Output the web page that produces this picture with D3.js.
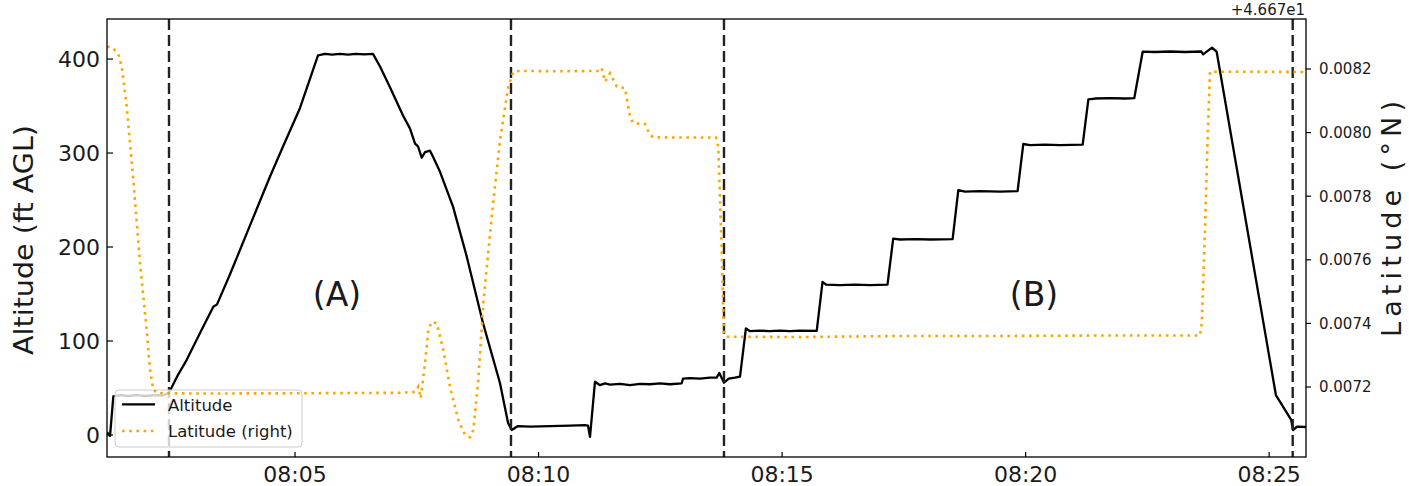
<!DOCTYPE html>
<html><head><meta charset="utf-8">
<script src="https://cdn.jsdelivr.net/npm/d3@7"></script>
<style>body{margin:0;background:#fff} svg{display:block} text{font-family:"DejaVu Sans",sans-serif;fill:#1a1a1a}</style>
</head><body><svg id="c" width="1409" height="486"></svg>
<script>
// minutes after 08:00
const altMinutes = [1.140,1.202,1.270,1.407,1.572,1.756,1.941,2.126,2.290,2.413,2.598,2.777,3.050,3.323,3.399,3.666,4.076,4.487,4.754,5.103,5.472,
  5.616,5.760,5.924,6.088,6.252,6.417,6.601,6.745,6.950,7.217,7.361,7.464,7.525,7.601,7.669,7.772,7.833,7.977,8.244,8.525,8.860,9.209,9.373,9.449,9.578,
  9.825,10.235,10.646,10.954,11.015,11.056,11.159,11.262,11.364,11.467,11.672,11.878,12.083,12.288,12.493,12.699,12.939,12.966,13.109,13.315,13.520,13.657,13.711,13.807,13.904,14.033,14.136,
  14.257,14.335,14.547,14.752,14.957,15.162,15.368,15.711,15.830,15.902,16.189,16.497,16.805,17.164,17.281,17.421,17.729,18.037,18.501,18.618,18.755,19.063,19.474,19.835,
  19.952,20.090,20.398,20.705,21.171,21.288,21.424,21.732,22.040,22.231,22.403,22.656,22.964,23.272,23.606,23.645,23.744,23.826,23.921,25.138,25.452,25.491,25.571,25.756];
const altFeet = [3,-1,41,42.5,41.5,42.5,41.5,42.5,42,45,64,80,108.5,136.5,139,171,223,275,307,348,404,
  405.5,404.6,405.4,404.8,405.6,405,405.5,392,370,340,326,310,307,295,301,302.5,296,280,243,190,119,55,13,5.3,9.5,
  9,9.5,10,10.5,10,-2,56.7,53,55,53.5,54.5,53,54.5,54,55,54,55,60,60.5,60,61,61,66,55.6,60,61,62,
  113.5,110.6,111,110.5,111,110.5,111,110.8,163,160,159.5,160,159.5,160,209,208,208.5,208,208.5,260.6,259,259.5,259,259.5,
  309.6,308.5,309,308.5,309,357,358,358.5,358,358.5,407.8,407.5,408,407.5,408,405,409,412,408,42.5,16,5.3,9,8.5];
const latMinutes = [1.140,1.264,1.367,1.442,1.545,1.680,1.818,1.955,2.023,2.091,2.194,3.050,5.103,7.156,7.464,7.531,7.581,7.669,7.737,7.806,7.909,8.045,8.182,8.353,8.490,8.593,8.661,8.763,8.866,9.038,9.209,9.379,9.482,9.619,
  10.440,11.262,11.297,11.364,11.467,11.605,11.775,11.878,11.946,12.186,12.288,12.356,12.904,13.643,13.690,13.760,13.807,13.848,15.368,17.421,19.474,21.527,23.580,23.615,23.683,23.730,23.785,25.756];
const latOffset = [0.0082708,0.0082645,0.0082494,0.0082072,0.0080814,0.0078509,0.0075890,0.0073792,0.0072535,0.0071906,0.0071802,0.0071796,0.0071802,0.0071818,0.0071843,0.0072009,0.0071645,0.0072745,0.0073792,0.0074053,0.0074003,0.0073164,0.0072009,0.0070962,0.0070491,0.0070418,0.0070648,0.0072220,0.0074632,0.0077355,0.0079767,0.0081443,0.0081915,0.0081937,
  0.0081930,0.0081937,0.0082022,0.0081601,0.0081865,0.0081443,0.0081393,0.0080500,0.0080292,0.0080270,0.0079925,0.0079852,0.0079846,0.0079846,0.0079557,0.0076308,0.0073689,0.0073582,0.0073572,0.0073604,0.0073604,0.0073619,0.0073619,0.0074003,0.0076937,0.0079557,0.0081915,0.0081906];
const latBase = 46.67;
const eventMinutes = [2.413, 9.434, 13.807, 25.483];
const altTicks = [0, 100, 200, 300, 400];
const latTicks = [0.0072, 0.0074, 0.0076, 0.0078, 0.0080, 0.0082];
const regionNames = ["(A)", "(B)"];
const regionMinutes = [5.862, 20.172];
const regionFeet = [137, 137];
const seriesNames = ["Altitude", "Latitude (right)"];

const base = new Date(2021, 0, 1, 8, 0, 0).getTime();
const T = m => new Date(base + m * 60000);

const L = 107, R = 1306, TOP = 19, B = 457;
const svg = d3.select("#c");
const x = d3.scaleTime().domain([T(1.140), T(25.756)]).range([L, R]);
const yA = d3.scaleLinear().domain([-23.4, 442.6]).range([B, TOP]);
const yL = d3.scaleLinear().domain([0.0069799, 0.0083572]).range([B, TOP]);

svg.append("defs").append("clipPath").attr("id","pc").append("rect")
  .attr("x", L).attr("y", TOP).attr("width", R-L).attr("height", B-TOP);

const gPlot = svg.append("g").attr("clip-path","url(#pc)");
const altData = altMinutes.map((m,i)=>[T(m), altFeet[i]]);
gPlot.append("path").datum(altData)
  .attr("d", d3.line().x(d=>x(d[0])).y(d=>yA(d[1])))
  .attr("fill","none").attr("stroke","#000").attr("stroke-width",2.3).attr("stroke-linejoin","round");

gPlot.selectAll("line.ev").data(eventMinutes).join("line").attr("class","ev")
  .attr("x1", d=>x(T(d))).attr("x2", d=>x(T(d))).attr("y1", TOP).attr("y2", B)
  .attr("stroke","#222").attr("stroke-width",2.4).attr("stroke-dasharray","11,5");

svg.selectAll("text.reg").data(regionNames).join("text").attr("class","reg")
  .attr("x",(d,i)=>x(T(regionMinutes[i]))).attr("y",(d,i)=>yA(regionFeet[i]))
  .attr("text-anchor","middle").attr("font-size",33).text(d=>d);

// legend (belongs to left axes)
const lg = svg.append("g");
lg.append("rect").attr("x",115).attr("y",390).attr("width",187).attr("height",57).attr("rx",4)
  .attr("fill","#fff").attr("fill-opacity",0.8).attr("stroke","#cccccc").attr("stroke-width",1);
lg.append("line").attr("x1",122).attr("x2",155).attr("y1",404.3).attr("y2",404.3).attr("stroke","#000").attr("stroke-width",2.3);
lg.append("line").attr("x1",122).attr("x2",155).attr("y1",431).attr("y2",431).attr("stroke","#FFA500").attr("stroke-width",2.6).attr("stroke-dasharray","2.6,4.6");
lg.selectAll("text").data(seriesNames).join("text").attr("x",168).attr("y",(d,i)=>410.5+i*26.7).attr("font-size",16.5).text(d=>d);

// latitude on top (secondary axes)
const g2 = svg.append("g").attr("clip-path","url(#pc)");
const latData = latMinutes.map((m,i)=>[T(m), latOffset[i]]);
g2.append("path").datum(latData)
  .attr("d", d3.line().x(d=>x(d[0])).y(d=>yL(d[1])))
  .attr("fill","none").attr("stroke","#FFA500").attr("stroke-width",2.6).attr("stroke-dasharray","2.6,4.6");

// frame
svg.append("rect").attr("x",L).attr("y",TOP).attr("width",R-L).attr("height",B-TOP)
  .attr("fill","none").attr("stroke","#000").attr("stroke-width",1.3);

// left axis (ticks inward)
const ga = svg.append("g");
altTicks.forEach(v=>{
  ga.append("line").attr("x1",L).attr("x2",L+6).attr("y1",yA(v)).attr("y2",yA(v)).attr("stroke","#000").attr("stroke-width",1.2);
  ga.append("text").attr("x",100).attr("y",yA(v)).attr("dy","0.36em").attr("text-anchor","end").attr("font-size",22).text(v);
});
// bottom axis
const xt = x.ticks(d3.timeMinute.every(5));
const fmt = d3.timeFormat("%H:%M");
xt.forEach(t=>{
  ga.append("line").attr("x1",x(t)).attr("x2",x(t)).attr("y1",B).attr("y2",B-5).attr("stroke","#000").attr("stroke-width",1.2);
  ga.append("text").attr("x",x(t)).attr("y",482).attr("text-anchor","middle").attr("font-size",22).text(fmt(t));
});
// right axis (ticks outward)
const lf = d3.format(".4f");
latTicks.forEach(v=>{
  ga.append("line").attr("x1",R).attr("x2",R+5).attr("y1",yL(v)).attr("y2",yL(v)).attr("stroke","#000").attr("stroke-width",1.2);
  ga.append("text").attr("x",1319).attr("y",yL(v)).attr("dy","0.36em").attr("font-size",15).text(lf(v));
});
svg.append("text").attr("x",1305).attr("y",15).attr("text-anchor","end").attr("font-size",15).text("+4.667e1");

svg.append("text").attr("transform","translate(33,240) rotate(-90)").attr("text-anchor","middle")
  .attr("font-size",27).attr("textLength",230).attr("lengthAdjust","spacingAndGlyphs").text("Altitude (ft AGL)");
svg.append("text").attr("transform","translate(1401,219) rotate(-90)").attr("text-anchor","middle")
  .attr("font-size",27).attr("textLength",236).attr("lengthAdjust","spacing").text("Latitude (°N)");
</script></body></html>
